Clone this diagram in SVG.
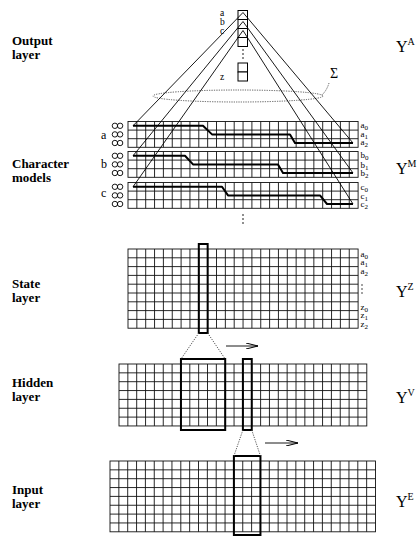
<svg xmlns="http://www.w3.org/2000/svg" width="420" height="536" viewBox="0 0 420 536">
<style>
.grid{fill:none;stroke:#111;stroke-width:0.9}
.thick{fill:none;stroke:#000;stroke-width:2}
.path{fill:none;stroke:#000;stroke-width:2;stroke-linejoin:round}
.ln{fill:none;stroke:#000;stroke-width:0.9}
.dot{fill:none;stroke:#444;stroke-width:0.9;stroke-dasharray:1.2 1.2}
.box{fill:#fff;stroke:#000;stroke-width:1}
.lbl{font-family:"Liberation Serif",serif;font-weight:bold;font-size:13px;fill:#000}
.sm{font-family:"Liberation Serif",serif;font-size:9.5px;fill:#000}
.ch{font-family:"Liberation Serif",serif;font-size:12px;fill:#000}
.rl{font-family:"Liberation Serif",serif;font-size:9px;fill:#000}
.sub{font-size:7px}
.sup{font-size:10px}
.Y{font-family:"Liberation Serif",serif;font-size:16px;fill:#000}
.sig{font-family:"Liberation Serif",serif;font-size:14px;fill:#000}
.el{fill:#000}
</style>
<defs>
<marker id="ah" viewBox="0 0 12 6" refX="12" refY="3" markerWidth="12" markerHeight="6" markerUnits="userSpaceOnUse" orient="auto">
<path d="M0 0L12 3L0 6" fill="none" stroke="#000" stroke-width="1"/>
</marker>
<g id="cg">
<rect class="grid" width="230.1" height="25.8"/>
<path class="grid" d="M8.85 0v25.8m8.85-25.8v25.8m8.85-25.8v25.8m8.85-25.8v25.8m8.85-25.8v25.8m8.85-25.8v25.8m8.85-25.8v25.8m8.85-25.8v25.8m8.85-25.8v25.8m8.85-25.8v25.8m8.85-25.8v25.8m8.85-25.8v25.8m8.85-25.8v25.8m8.85-25.8v25.8m8.85-25.8v25.8m8.85-25.8v25.8m8.85-25.8v25.8m8.85-25.8v25.8m8.85-25.8v25.8m8.85-25.8v25.8m8.85-25.8v25.8m8.85-25.8v25.8m8.85-25.8v25.8m8.85-25.8v25.8m8.85-25.8v25.8M0 8.6h230.1M0 17.2h230.1"/>
</g>
<g id="oo">
<circle cx="-2.6" cy="0" r="2.7" fill="none" stroke="#000" stroke-width="0.9"/>
<circle cx="2.6" cy="0" r="2.7" fill="none" stroke="#000" stroke-width="0.9"/>
</g>
</defs>

<!-- left labels -->
<g id="labels">
<text class="lbl" x="12" y="45">Output</text><text class="lbl" x="12" y="59">layer</text>
<text class="lbl" x="12" y="168">Character</text><text class="lbl" x="12" y="182">models</text>
<text class="lbl" x="12" y="288">State</text><text class="lbl" x="12" y="302">layer</text>
<text class="lbl" x="12" y="387">Hidden</text><text class="lbl" x="12" y="401">layer</text>
<text class="lbl" x="12" y="494">Input</text><text class="lbl" x="12" y="508">layer</text>
</g>

<!-- Y labels -->
<g id="ylabels">
<text class="Y" x="396" y="52">Y<tspan class="sup" dy="-7">A</tspan></text>
<text class="Y" x="396" y="174">Y<tspan class="sup" dy="-7">M</tspan></text>
<text class="Y" x="396" y="297">Y<tspan class="sup" dy="-7">Z</tspan></text>
<text class="Y" x="396" y="403">Y<tspan class="sup" dy="-7">V</tspan></text>
<text class="Y" x="396" y="507">Y<tspan class="sup" dy="-7">E</tspan></text>
</g>

<!-- Output layer -->
<g id="output">
<rect class="box" x="238" y="10.5" width="9.5" height="9"/>
<rect class="box" x="238" y="19.5" width="9.5" height="9"/>
<rect class="box" x="238" y="28.5" width="9.5" height="9"/>
<rect class="box" x="238" y="37.5" width="9.5" height="9"/>
<circle class="el" cx="243" cy="50" r="0.8"/><circle class="el" cx="243" cy="54" r="0.8"/><circle class="el" cx="243" cy="58" r="0.8"/>
<rect class="box" x="238" y="63" width="9.5" height="9"/>
<rect class="box" x="238" y="72" width="9.5" height="9"/>
<text class="sm" x="220" y="15.5">a</text>
<text class="sm" x="220" y="25">b</text>
<text class="sm" x="220" y="33.5">c</text>
<text class="sm" x="220" y="80">z</text>
</g>

<g id="sum">
<ellipse class="dot" cx="238" cy="96" rx="85" ry="6"/>
<text class="sig" x="330" y="78">Σ</text>
<path class="dot" d="M329 83Q327 90 322 95"/>
</g>

<!-- Character models -->
<g id="charmodels">
<use href="#cg" x="128" y="121.5"/>
<use href="#cg" x="128" y="151.5"/>
<use href="#cg" x="128" y="182.5"/>
<use href="#oo" x="117.5" y="125.8"/><use href="#oo" x="117.5" y="134.4"/><use href="#oo" x="117.5" y="143"/>
<use href="#oo" x="117.5" y="155.8"/><use href="#oo" x="117.5" y="164.4"/><use href="#oo" x="117.5" y="173"/>
<use href="#oo" x="117.5" y="186.8"/><use href="#oo" x="117.5" y="195.4"/><use href="#oo" x="117.5" y="204"/>
<text class="ch" x="101" y="139">a</text>
<text class="ch" x="101" y="168">b</text>
<text class="ch" x="101" y="197">c</text>
<path class="path" d="M133 125.8H203L212 134.4H290L295 143H353"/>
<path class="path" d="M133 155.8H185L193 164.4H278L283 173H353"/>
<path class="path" d="M133 186.8H222L228 195.4H320L327 204H353"/>
<text class="rl" x="360.5" y="127.5">a<tspan class="sub" dy="2">0</tspan></text>
<text class="rl" x="360.5" y="136.5">a<tspan class="sub" dy="2">1</tspan></text>
<text class="rl" x="360.5" y="145">a<tspan class="sub" dy="2">2</tspan></text>
<text class="rl" x="360.5" y="158">b<tspan class="sub" dy="2">0</tspan></text>
<text class="rl" x="360.5" y="167.5">b<tspan class="sub" dy="2">1</tspan></text>
<text class="rl" x="360.5" y="176">b<tspan class="sub" dy="2">2</tspan></text>
<text class="rl" x="360.5" y="190">c<tspan class="sub" dy="2">0</tspan></text>
<text class="rl" x="360.5" y="198.5">c<tspan class="sub" dy="2">1</tspan></text>
<text class="rl" x="360.5" y="207">c<tspan class="sub" dy="2">2</tspan></text>
<circle class="el" cx="243" cy="215" r="0.8"/><circle class="el" cx="243" cy="219" r="0.8"/><circle class="el" cx="243" cy="223" r="0.8"/>
</g>

<!-- State layer -->
<g id="state">
<g transform="translate(128,249)">
<rect class="grid" width="230.1" height="79.2"/>
<path class="grid" d="M8.85 0v79.2m8.85-79.2v79.2m8.85-79.2v79.2m8.85-79.2v79.2m8.85-79.2v79.2m8.85-79.2v79.2m8.85-79.2v79.2m8.85-79.2v79.2m8.85-79.2v79.2m8.85-79.2v79.2m8.85-79.2v79.2m8.85-79.2v79.2m8.85-79.2v79.2m8.85-79.2v79.2m8.85-79.2v79.2m8.85-79.2v79.2m8.85-79.2v79.2m8.85-79.2v79.2m8.85-79.2v79.2m8.85-79.2v79.2m8.85-79.2v79.2m8.85-79.2v79.2m8.85-79.2v79.2m8.85-79.2v79.2m8.85-79.2v79.2M0 8.8h230.1M0 17.6h230.1M0 26.4h230.1M0 35.2h230.1M0 44h230.1M0 52.8h230.1M0 61.6h230.1M0 70.4h230.1"/>
</g>
<rect class="thick" x="198.8" y="244" width="8.85" height="89"/>
<text class="rl" x="360.5" y="256.5">a<tspan class="sub" dy="2">0</tspan></text>
<text class="rl" x="360.5" y="265">a<tspan class="sub" dy="2">1</tspan></text>
<text class="rl" x="360.5" y="273.5">a<tspan class="sub" dy="2">2</tspan></text>
<circle class="el" cx="362" cy="285" r="0.7"/><circle class="el" cx="362" cy="289" r="0.7"/><circle class="el" cx="362" cy="293" r="0.7"/>
<text class="rl" x="360.5" y="309.5">z<tspan class="sub" dy="2">0</tspan></text>
<text class="rl" x="360.5" y="318">z<tspan class="sub" dy="2">1</tspan></text>
<text class="rl" x="360.5" y="326.5">z<tspan class="sub" dy="2">2</tspan></text>
</g>

<!-- Hidden layer -->
<g id="hidden">
<g transform="translate(119,364)">
<rect class="grid" width="247.8" height="61.95"/>
<path class="grid" d="M8.85 0v61.95m8.85-61.95v61.95m8.85-61.95v61.95m8.85-61.95v61.95m8.85-61.95v61.95m8.85-61.95v61.95m8.85-61.95v61.95m8.85-61.95v61.95m8.85-61.95v61.95m8.85-61.95v61.95m8.85-61.95v61.95m8.85-61.95v61.95m8.85-61.95v61.95m8.85-61.95v61.95m8.85-61.95v61.95m8.85-61.95v61.95m8.85-61.95v61.95m8.85-61.95v61.95m8.85-61.95v61.95m8.85-61.95v61.95m8.85-61.95v61.95m8.85-61.95v61.95m8.85-61.95v61.95m8.85-61.95v61.95m8.85-61.95v61.95m8.85-61.95v61.95m8.85-61.95v61.95M0 8.85h247.8M0 17.7h247.8M0 26.55h247.8M0 35.4h247.8M0 44.25h247.8M0 53.1h247.8"/>
</g>
<rect class="thick" x="180.95" y="359" width="44.25" height="71"/>
<rect class="thick" x="242.9" y="359" width="8.85" height="71"/>
</g>

<!-- Input layer -->
<g id="input">
<g transform="translate(110,461)">
<rect class="grid" width="265.5" height="70.8"/>
<path class="grid" d="M8.85 0v70.8m8.85-70.8v70.8m8.85-70.8v70.8m8.85-70.8v70.8m8.85-70.8v70.8m8.85-70.8v70.8m8.85-70.8v70.8m8.85-70.8v70.8m8.85-70.8v70.8m8.85-70.8v70.8m8.85-70.8v70.8m8.85-70.8v70.8m8.85-70.8v70.8m8.85-70.8v70.8m8.85-70.8v70.8m8.85-70.8v70.8m8.85-70.8v70.8m8.85-70.8v70.8m8.85-70.8v70.8m8.85-70.8v70.8m8.85-70.8v70.8m8.85-70.8v70.8m8.85-70.8v70.8m8.85-70.8v70.8m8.85-70.8v70.8m8.85-70.8v70.8m8.85-70.8v70.8m8.85-70.8v70.8m8.85-70.8v70.8M0 8.85h265.5M0 17.7h265.5M0 26.55h265.5M0 35.4h265.5M0 44.25h265.5M0 53.1h265.5M0 61.95h265.5"/>
</g>
<rect class="thick" x="233.9" y="456" width="26.55" height="79"/>
</g>

<!-- connectors -->
<g id="connectors">
<path class="ln" d="M243 12.5L133 125.8M243 12.5L353 143"/>
<path class="ln" d="M243 21.5L133 155.8M243 21.5L353 173"/>
<path class="ln" d="M243 30.5L133 186.8M243 30.5L353 204"/>
<path class="dot" d="M198.8 333L181 359M207.65 333L225.2 359"/>
<path class="dot" d="M242.9 430L233.9 456M251.75 430L260.45 456"/>
<line class="ln" x1="226" y1="346" x2="258" y2="346" marker-end="url(#ah)"/>
<line class="ln" x1="265" y1="443" x2="298" y2="443" marker-end="url(#ah)"/>
</g>
</svg>
